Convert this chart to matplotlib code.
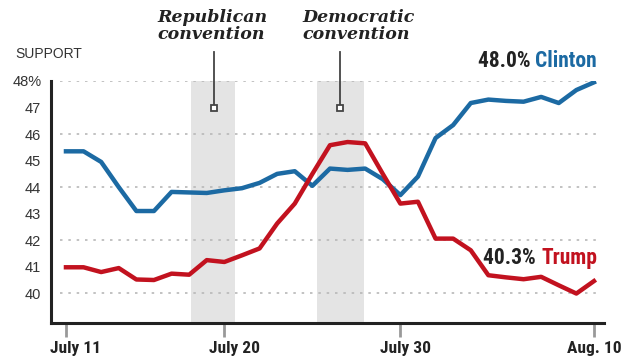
import matplotlib.pyplot as plt
from matplotlib.patches import Rectangle

# days counted from July 11 (0) to Aug. 10 (30)
days = list(range(31))
clinton = [45.35, 45.35, 44.95, 44.0, 43.1, 43.1, 43.82, 43.8, 43.78, 43.88,
           43.96, 44.16, 44.5, 44.6, 44.05, 44.7, 44.65, 44.7, 44.3, 43.7,
           44.4, 45.85, 46.34, 47.17, 47.3, 47.25, 47.22, 47.4, 47.17, 47.66,
           47.95]
trump = [40.98, 40.98, 40.8, 40.95, 40.52, 40.5, 40.74, 40.7, 41.25, 41.18,
         41.43, 41.69, 42.63, 43.38, 44.5, 45.58, 45.7, 45.65, 44.5, 43.38,
         43.45, 42.06, 42.06, 41.62, 40.68, 40.6, 40.53, 40.62, 40.3, 39.99,
         40.46]

tick_days = [0, 9, 19, 30]
tick_labels = ['July 11', 'July 20', 'July 30', 'Aug. 10']
label_days = [0.57, 9.57, 19.3, 30.0]   # labels sit a bit right of their ticks
ytick_vals = [40, 41, 42, 43, 44, 45, 46, 47, 48]
ytick_labels = ['40', '41', '42', '43', '44', '45', '46', '47', '48%']

# convention spans (in days) and where the marker sits
rep_span = (7.1, 9.6)
dem_span = (14.25, 16.95)
rep_mark = 8.4
dem_mark = 15.55

BLUE = '#1c6aa3'
RED = '#c2121f'
NARROW = ['Roboto Condensed', 'Roboto', 'DejaVu Sans']
YMIN = 38.88

fig = plt.figure(figsize=(6.32, 3.58), dpi=100)
ax = fig.add_axes([51 / 632, (358 - 323) / 358, (604 - 51) / 632, (323 - 81) / 358])
ax.set_xlim(-0.85, 30.57)
ax.set_ylim(YMIN, 48)

for s in [rep_span, dem_span]:
    ax.add_patch(Rectangle((s[0], YMIN), s[1] - s[0], 48 - YMIN,
                           color='#e4e4e4', lw=0, zorder=0))

for v in [40, 42, 44, 46, 48]:
    ax.plot([-0.35, 30.2], [v, v], color='#b8b8b8', lw=1.2,
            ls=(0, (1.5, 3.5)), zorder=1)

ax.plot(days, clinton, color=BLUE, lw=3.2, solid_joinstyle='round', zorder=3)
ax.plot(days, trump, color=RED, lw=3.2, solid_joinstyle='round', zorder=4)

for m in [rep_mark, dem_mark]:
    ax.plot([m, m], [47.0, 49.1], color='#444444', lw=1.3, clip_on=False, zorder=5)
    ax.plot(m, 47.0, marker='s', ms=5, mfc='white', mec='#444444', mew=1.3, zorder=6)

for sp in ['top', 'right']:
    ax.spines[sp].set_visible(False)
for sp in ['left', 'bottom']:
    ax.spines[sp].set_linewidth(2.2)
    ax.spines[sp].set_color('#222222')

ax.set_yticks(ytick_vals)
ax.set_yticklabels(ytick_labels, fontsize=10.5, family='Liberation Sans', color='#333333')
ax.tick_params(axis='y', length=0, pad=7)
ax.set_xticks(tick_days)
ax.set_xticklabels([])
ax.tick_params(axis='x', length=10, width=2, color='#999999', direction='out')
for d, lab in zip(label_days, tick_labels):
    ax.text(d, YMIN - 25 / 26.5, lab, fontsize=12.5, fontweight='bold', family=NARROW,
            color='#222222', ha='center', va='center', clip_on=False)

fig.text(15 / 632, 1 - 54 / 358, 'SUPPORT', fontsize=10, family='Liberation Sans',
         color='#333333', va='center')

for x0, txt in [(157, 'Republican\nconvention'), (302, 'Democratic\nconvention')]:
    fig.text(x0 / 632, 1 - 26 / 358, txt, fontsize=12.5, family='DejaVu Serif',
             style='italic', fontweight='bold', color='#222222',
             va='center', ha='left', linespacing=0.97)

# end labels: value in black, name in series colour, right aligned
r = fig.canvas.get_renderer()
for y0, val, name, col in [(61, '48.0% ', 'Clinton', BLUE), (258, '40.3% ', 'Trump', RED)]:
    t = fig.text(597 / 632, 1 - y0 / 358, name, fontsize=15.5, fontweight='bold',
                 family=NARROW, color=col, ha='right', va='center')
    w = t.get_window_extent(r).width / 632
    fig.text(597 / 632 - w, 1 - y0 / 358, val, fontsize=15.5, fontweight='bold',
             family=NARROW, color='#222222', ha='right', va='center')

fig.savefig('out.png', dpi=100)
